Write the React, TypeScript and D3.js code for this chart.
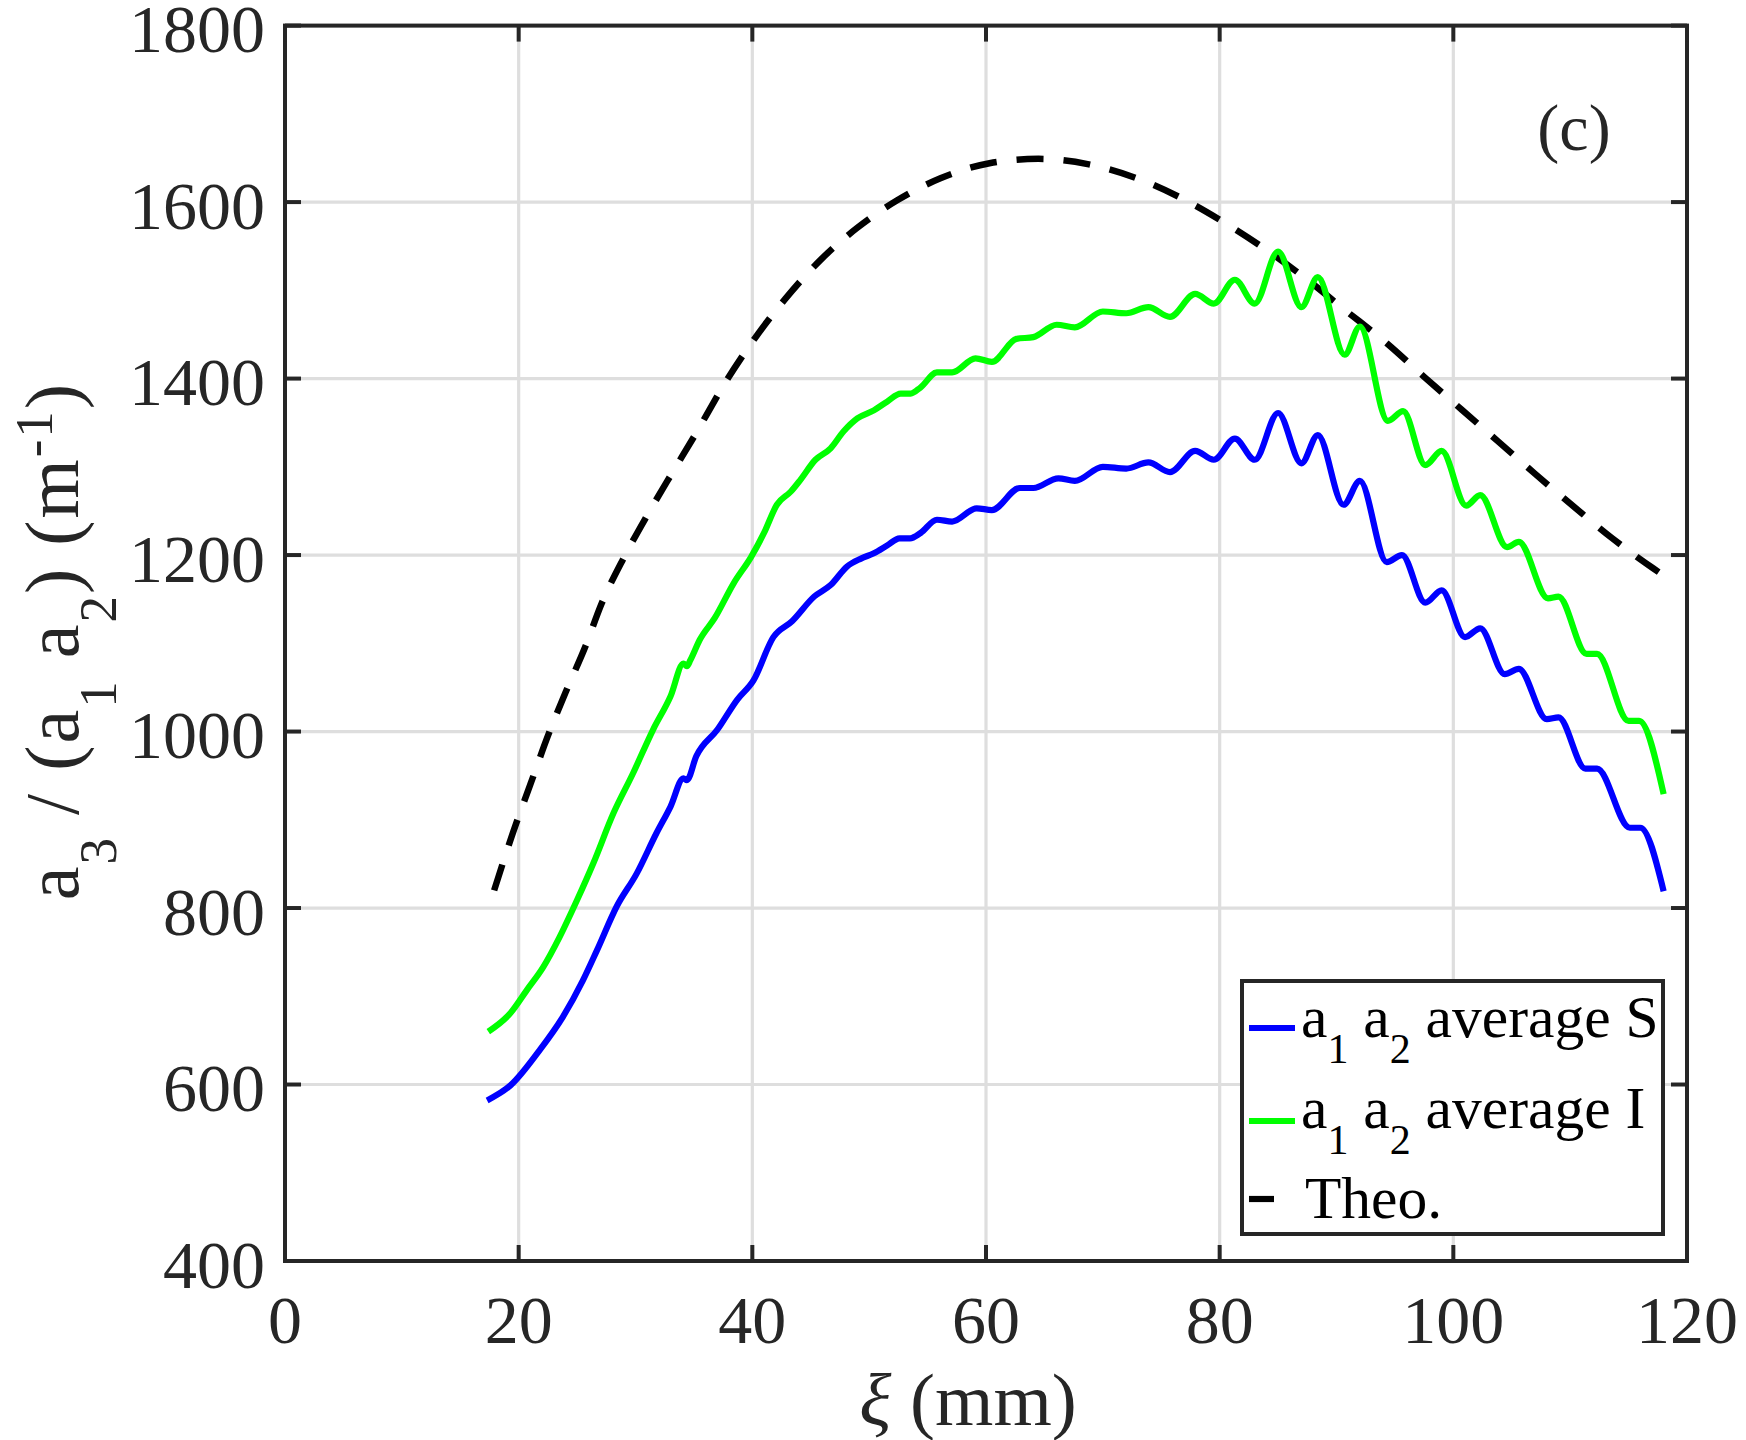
import React from "react";
import * as d3 from "d3";

// ---- data ----
const X_TICKS = [0, 20, 40, 60, 80, 100, 120];
const Y_TICKS = [400, 600, 800, 1000, 1200, 1400, 1600, 1800];

const xiS = [17.3, 19.3, 21.8, 23.8, 25.5, 26.7, 28.4, 30.1, 31.8, 33.0, 34.1, 34.4, 35.2, 37.0, 38.7, 40.1, 41.8, 43.4, 45.3, 46.7, 48.1, 49.3, 50.4, 51.55, 52.6, 53.5, 54.4, 55.8, 57.1, 59.2, 60.5, 62.9, 64.05, 66.2, 67.6, 70.0, 72.0, 73.9, 75.75, 77.9, 79.5, 81.3, 83.0, 85.0, 87.0, 88.4, 90.6, 92.0, 94.3, 95.6, 97.6, 99.0, 101.0, 102.3, 104.4, 105.6, 108.0, 109.0, 111.3, 112.3, 115.1, 116.0, 118.0];
const valS = [582, 599, 639, 677, 718, 752, 802, 839, 885, 915, 947, 945, 972, 1002, 1036, 1058, 1107, 1125, 1153, 1166, 1187, 1196, 1202, 1211, 1219, 1219, 1225, 1240, 1238, 1253, 1251, 1276, 1276, 1287, 1284, 1300, 1298, 1305, 1294, 1318, 1308, 1332, 1308, 1361, 1304, 1336, 1257, 1284, 1192, 1200, 1146, 1160, 1107, 1117, 1065, 1071, 1014, 1016, 958, 958, 891, 891, 819];

const xiI = [17.4, 19.3, 20.7, 22.1, 23.5, 25.0, 26.4, 28.1, 29.8, 31.5, 33.0, 34.1, 34.4, 34.7, 35.5, 36.8, 38.4, 39.9, 41.0, 42.1, 43.3, 44.1, 45.4, 46.7, 47.8, 49.0, 50.4, 51.55, 52.7, 53.55, 54.4, 55.8, 57.1, 59.1, 60.5, 62.6, 64.05, 66.05, 67.6, 70.0, 72.0, 73.9, 75.75, 77.9, 79.5, 81.3, 83.0, 85.0, 87.0, 88.4, 90.7, 92.0, 94.4, 95.7, 97.6, 99.0, 101.1, 102.3, 104.6, 105.6, 108.1, 109.0, 111.4, 112.3, 115.0, 115.9, 118.0];
const valI = [660, 681, 707, 733, 767, 809, 851, 907, 953, 1002, 1040, 1077, 1074, 1081, 1104, 1129, 1168, 1198, 1225, 1257, 1272, 1285, 1308, 1321, 1340, 1355, 1364, 1374, 1383, 1383, 1390, 1407, 1407, 1423, 1419, 1445, 1447, 1461, 1458, 1476, 1474, 1481, 1470, 1496, 1485, 1512, 1485, 1544, 1481, 1515, 1427, 1459, 1352, 1363, 1302, 1318, 1256, 1268, 1209, 1215, 1151, 1153, 1088, 1088, 1012, 1012, 929];

const xiTheo = [17.9, 19.5, 21.0, 22.5, 24.0, 25.7, 27.1, 29.0, 31.0, 33.0, 35.0, 37.9, 40.4, 42.8, 45.8, 48.9, 52.4, 56.1, 60.3, 64.5, 68.7, 72.9, 76.8, 80.5, 84.2, 87.6, 90.6, 94.3, 97.5, 100.7, 103.9, 107.0, 110.3, 113.6, 117.1, 118.1];
const valTheo = [820, 885, 940, 995, 1044, 1096, 1145, 1197, 1245, 1290, 1334, 1400, 1449, 1490, 1534, 1570, 1602, 1627, 1644, 1649, 1643, 1627, 1604, 1576, 1544, 1511, 1479, 1440, 1402, 1365, 1328, 1292, 1255, 1219, 1185, 1176];

const legendNames = ["average S", "average I", "Theo."];
const seriesColors = ["#0000ff", "#00ff00", "#000000"];

const W = 1746;
const H = 1440;
const PL = 285, PR = 1687, PT = 25.6, PB = 1261;
const AX = "#262626";
const FONT = "'Liberation Serif', 'Times New Roman', serif";

export default function App() {
  const x = d3.scaleLinear().domain([0, 120]).range([PL, PR]);
  const y = d3.scaleLinear().domain([400, 1800]).range([PB, PT]);
  const line = d3
    .line<[number, number]>()
    .x((d) => x(d[0]))
    .y((d) => y(d[1]))
    .curve(d3.curveMonotoneX);

  const sPts = xiS.map((v, i) => [v, valS[i]] as [number, number]);
  const iPts = xiI.map((v, i) => [v, valI[i]] as [number, number]);
  const tPts = xiTheo.map((v, i) => [v, valTheo[i]] as [number, number]);

  const tickLen = 16;
  const legRows = [1028, 1121, 1199];
  const legBase = [1036.7, 1128, 1218];

  return (
    <svg
      width={W}
      height={H}
      style={{ position: "absolute", left: 0, top: 0, background: "#fff" }}
      fontFamily={FONT}
    >
      <rect x={0} y={0} width={W} height={H} fill="#fff" />
      {/* grid */}
      {X_TICKS.map((t) => (
        <line key={"gx" + t} x1={x(t)} x2={x(t)} y1={PT} y2={PB} stroke="#dedede" strokeWidth={3.2} />
      ))}
      {Y_TICKS.map((t) => (
        <line key={"gy" + t} x1={PL} x2={PR} y1={y(t)} y2={y(t)} stroke="#dedede" strokeWidth={3.2} />
      ))}
      {/* series */}
      <path d={line(tPts) || ""} fill="none" stroke={seriesColors[2]} strokeWidth={6.5} strokeDasharray="27 20" />
      <path d={line(sPts) || ""} fill="none" stroke={seriesColors[0]} strokeWidth={6.2} strokeLinejoin="round" />
      <path d={line(iPts) || ""} fill="none" stroke={seriesColors[1]} strokeWidth={6.2} strokeLinejoin="round" />
      {/* axes box */}
      <rect x={PL} y={PT} width={PR - PL} height={PB - PT} fill="none" stroke={AX} strokeWidth={4} />
      {X_TICKS.map((t) => (
        <g key={"tx" + t}>
          <line x1={x(t)} x2={x(t)} y1={PB} y2={PB - tickLen} stroke={AX} strokeWidth={4} />
          <line x1={x(t)} x2={x(t)} y1={PT} y2={PT + tickLen} stroke={AX} strokeWidth={4} />
          <text x={x(t)} y={1342.7} textAnchor="middle" fontSize={68} fill={AX}>
            {t}
          </text>
        </g>
      ))}
      {Y_TICKS.map((t) => (
        <g key={"ty" + t}>
          <line x1={PL} x2={PL + tickLen} y1={y(t)} y2={y(t)} stroke={AX} strokeWidth={4} />
          <line x1={PR} x2={PR - tickLen} y1={y(t)} y2={y(t)} stroke={AX} strokeWidth={4} />
          <text x={265} y={y(t) + 26.5} textAnchor="end" fontSize={68} fill={AX}>
            {t}
          </text>
        </g>
      ))}
      {/* axis labels */}
      <text x={968} y={1425} textAnchor="middle" fontSize={75} fill={AX} style={{ whiteSpace: "pre" }}>
        <tspan fontStyle="italic">ξ</tspan> (mm)
      </text>
      <text
        transform={`translate(78,641) rotate(-90)`}
        textAnchor="middle"
        fontSize={76}
        fill={AX}
        letterSpacing={2}
        style={{ whiteSpace: "pre" }}
      >
        a<tspan fontSize={53} dy={38}>3</tspan>
        <tspan dy={-38}> / (a</tspan>
        <tspan fontSize={53} dy={38}>1</tspan>
        <tspan dy={-38}> a</tspan>
        <tspan fontSize={53} dy={38}>2</tspan>
        <tspan dy={-38}>) (m</tspan>
        <tspan fontSize={53} dy={-26}>-1</tspan>
        <tspan dy={26}>)</tspan>
      </text>
      <text x={1574} y={150} textAnchor="middle" fontSize={66} fill={AX}>
        (c)
      </text>
      {/* legend */}
      <rect x={1242} y={981} width={421} height={253} fill="#fff" stroke={AX} strokeWidth={4} />
      {legendNames.map((name, i) => (
        <g key={"leg" + i}>
          <line
            x1={1249}
            x2={1295}
            y1={legRows[i]}
            y2={legRows[i]}
            stroke={seriesColors[i]}
            strokeWidth={6.2}
            strokeDasharray={i === 2 ? "25 30" : undefined}
          />
          {i < 2 ? (
            <text x={1301} y={legBase[i]} fontSize={59.5} fill="#000" style={{ whiteSpace: "pre" }}>
              a<tspan fontSize={42} dy={26}>1</tspan>
              <tspan dy={-26}> a</tspan>
              <tspan fontSize={42} dy={26}>2</tspan>
              <tspan dy={-26}>{" " + name}</tspan>
            </text>
          ) : (
            <text x={1305} y={legBase[i]} fontSize={59.5} fill="#000">
              {name}
            </text>
          )}
        </g>
      ))}
    </svg>
  );
}
